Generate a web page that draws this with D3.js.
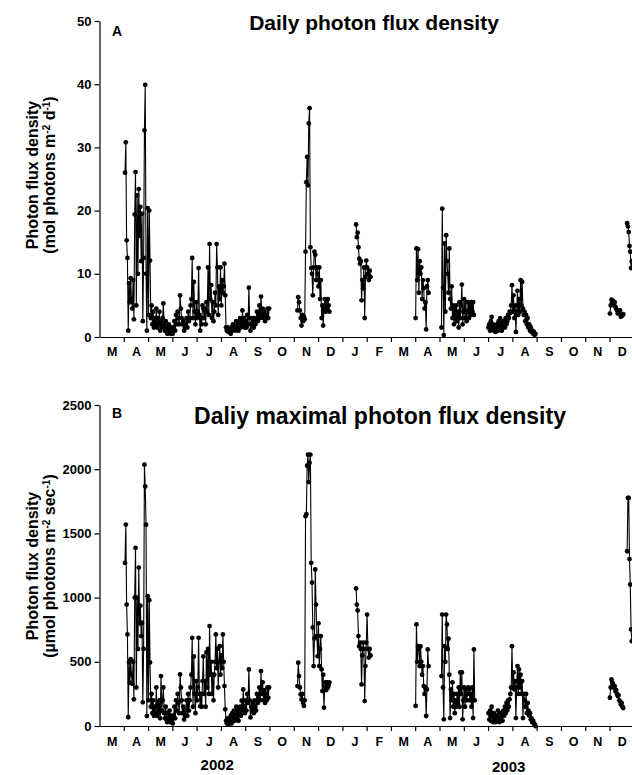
<!DOCTYPE html>
<html><head><meta charset="utf-8">
<script src="https://cdn.jsdelivr.net/npm/d3@7"></script>
<style>
body{margin:0;background:#fff}
svg{display:block}
text{font-family:"Liberation Sans",Arial,Helvetica,sans-serif;font-weight:bold;fill:#000}
</style>
</head><body>
<svg id="chart" width="632" height="775"></svg>
<script>
// ---------- data ----------
const monthLabels = ["M","A","M","J","J","A","S","O","N","D","J","F","M","A","M","J","J","A","S","O","N","D"];
const yearLabels = ["2002","2003"];
const ticksA = [0,10,20,30,40,50];
const ticksB = [0,500,1000,1500,2000,2500];
const titleA = "Daily photon flux density";
const titleB = "Daliy maximal photon flux density";

// start date of each run of consecutive daily measurements
const runStarts = ["2002-04-02","2002-11-05","2003-01-18","2003-04-01","2003-05-03","2003-07-01","2003-12-01","2003-12-23"];

// Panel A: daily photon flux density (mol photons m-2 d-1)
const dailyA1 = [26,30.8,15.3,12.5,1.0,8.5,5.5,9.3,6,4.5,9,2.8,19.4,26.1,5,22.4,10,23.4,16,20.6,12,19.5,2.5,12.5,32.7,39.9,10,1,20.4,
  3.5,20,12.1,3,5,2,4,1.5,3,2,4.5,1.5,3,2,4,1,2.5,1.5,3,5.3,2,1,2.5,1,0.5,1.5,2,1,0.5,1.5,1,
  0.5,1.5,2.5,1,3.5,2,4,3,2,6.6,4.5,3,2,2.5,1,1.5,2,3,1.5,4,2.5,3,5,6,12.5,3,8.7,4,2,5.5,
  3,4,10.9,3.5,1,3,2,5,4.5,3,4.5,2,5.5,4,11,3.5,14.7,6,8.2,3,5.5,2.5,4,7,5,14.7,11,3.5,8,6,11,
  5,9,7,8,11.6,6.6,1.5,1,1.5,0.8,1.2,1,0.5,1.5,1,2,1.2,1.5,1,2.5,1.5,2,1,2.5,3,1.5,2.5,4.2,2,3,1.5,
  2.5,1.5,3.5,2,7.8,3,1,2,3,2.5,1.5,3,2,2.5,4,2.5,3.5,5,3,6.4,3.5,4.5,3,4,2.5,3.5,3,4.5,3,4.5];
const dailyA2 = [4.2,6.3,5.5,4.2,3,1.8,3.5,2.5,3.2,2.8,13.5,24.5,28.5,24,33.8,36.2,14.2,10.9,10,6.6,11,13.5,13,9,11,10,
  8,11,6,9,3,5,1.8,4.5,6,4,5.5,4.5,6,5,4];
const dailyA3 = [17.8,15.8,16.5,14.2,12.4,11.6,12,5.8,9,7.7,11,3,9.5,12.1,11,10,9,10.5,9.5];
const dailyA4 = [3,14,9,13.9,7,12,10,11,6,9,7.7,4.5,5.5,1.2,8,9,7];
const dailyA5 = [1.5,20.3,7.8,0.3,14.8,4,16.1,12,10,7,14,6,4.5,8,3,5,2,4.5,3,5,2.5,4,1.5,5.5,3,5,8.3,2,4,
  6,3,5.5,2.5,4,5.5,3,5,3.5,5.5,4,5.5,3.5];
const dailyA6 = [1.5,2,1,2.5,3.2,1.5,2,1,1.5,0.8,1.2,2,1,2.5,1.5,3,2,1,1.5,2.5,2,1.5,3,2,2.5,3.5,3,4,3.8,5,8.2,
  4,6.6,3,5,0.8,4,7.3,3.5,6,4,9,5,8.7,4.5,3.5,4,2.5,3.5,2,3,1.5,2,1,1.5,0.8,1,0.5,0.8,0.3,0.5];
const dailyA7 = [3.7,5,5.9,5.5,5.7,5.3,5.5,4.8,4.5,4.2,3.7,4,3.8,4.2,3.2,3.5,3.4,3.6];
const dailyA8 = [18,17.5,16.6,14.4,13.5,10.9,12];

// Panel B: daily maximal photon flux density (umol photons m-2 s-1)
const maxB1 = [1270,1569,946,713,68,495,338,520,400,330,500,208,1000,1387,300,1000,600,1234,800,937,700,804,184,600,2035,1866,1568,78,1011,
  200,980,495,150,250,100,200,80,150,100,300,80,180,100,200,60,389,120,200,300,100,60,150,50,30,100,60,120,30,80,50,
  20,80,150,60,200,120,250,180,100,402,300,200,100,150,50,80,120,200,80,250,120,200,300,400,687,150,542,250,100,350,
  200,300,687,250,153,250,150,350,542,250,350,150,573,300,600,250,778,400,500,250,400,200,400,500,713,450,600,300,500,622,400,
  550,450,713,500,311,130,40,20,60,10,50,30,80,20,100,50,120,40,80,150,60,130,40,100,150,80,197,120,285,150,100,
  200,120,250,180,441,200,67,150,120,180,100,200,150,120,250,180,220,300,200,428,250,340,200,280,180,250,200,300,220,300];
const maxB2 = [311,493,389,300,246,206,250,180,156,200,1633,1650,2027,2113,1900,2050,2113,1271,1117,767,467,682,1219,946,700,544,
  800,467,600,700,441,272,400,143,300,340,280,340,300,320,340];
const maxB3 = [1071,946,900,700,622,650,600,324,550,650,600,194,467,650,868,600,533,600,550];
const maxB4 = [156,791,500,622,600,467,620,500,400,467,311,250,300,78,285,596,467];
const maxB5 = [389,868,300,52,622,500,868,791,600,680,400,62,285,200,340,150,250,100,200,150,250,180,300,150,417,250,417,52,200,
  300,150,285,200,250,300,285,200,250,150,300,62,596,200];
const maxB6 = [100,50,120,40,150,80,30,100,60,30,80,40,120,60,30,100,50,80,40,120,80,150,100,180,120,200,150,208,250,300,622,
  300,417,285,350,62,300,467,250,441,300,400,250,350,62,250,200,150,250,100,180,120,80,100,50,60,30,40,20,10,0];
const maxB7 = [220,300,363,340,324,300,310,272,280,250,233,240,200,190,168,180,150,140];
const maxB8 = [1361,1776,1776,1300,1102,752,661];

const runsA = [dailyA1,dailyA2,dailyA3,dailyA4,dailyA5,dailyA6,dailyA7,dailyA8];
const runsB = [maxB1,maxB2,maxB3,maxB4,maxB5,maxB6,maxB7,maxB8];

// ---------- helpers ----------
const parse = d3.timeParse("%Y-%m-%d");
function monthPos(dt){
  const y = dt.getFullYear(), m = dt.getMonth();
  const dim = new Date(y, m+1, 0).getDate();
  return (y-2002)*12 + m - 2 + (dt.getDate()-0.5)/dim;
}
function toPoints(start, vals){
  const s = parse(start);
  return vals.map((v,i)=>[monthPos(d3.timeDay.offset(s,i)), v]);
}

const svg = d3.select("#chart");
const x = d3.scaleLinear().domain([0,22]).range([99.5,633.8]);

function drawPanel(cfg){
  const y = d3.scaleLinear().domain(cfg.domain).range(cfg.range);
  const g = svg.append("g");

  // y axis
  const ya = g.append("g").attr("transform","translate(99.5,0)")
    .call(d3.axisLeft(y).tickValues(cfg.ticks).tickSize(5).tickSizeOuter(0).tickPadding(3).tickFormat(d3.format("d")));
  ya.selectAll("text").style("font-size","13px");
  ya.selectAll("path,line").attr("stroke","#000").attr("stroke-width",1.2);

  // x axis ticks
  const xa = g.append("g").attr("transform",`translate(0,${y(0)})`)
    .call(d3.axisBottom(x).tickValues(d3.range(1,22)).tickSize(5).tickSizeOuter(0).tickFormat(""));
  xa.selectAll("path,line").attr("stroke","#000").attr("stroke-width",1.2);

  // month labels
  const xl = g.append("g").attr("transform",`translate(0,${y(0)})`)
    .call(d3.axisBottom(x).tickValues(d3.range(22).map(i=>i+0.5)).tickSize(0).tickPadding(cfg.monthPad)
      .tickFormat(d=>monthLabels[Math.floor(d)]));
  xl.select(".domain").remove();
  xl.selectAll("text").style("font-size","12.5px");

  // data
  const line = d3.line().x(d=>x(d[0])).y(d=>y(d[1]));
  cfg.runs.forEach((vals,i)=>{
    const pts = toPoints(runStarts[i], vals);
    g.append("path").datum(pts).attr("d",line)
      .attr("fill","none").attr("stroke","#000").attr("stroke-width",1.1);
    g.append("g").selectAll("circle").data(pts).join("circle")
      .attr("cx",d=>x(d[0])).attr("cy",d=>y(d[1])).attr("r",2.4).attr("fill","#000");
  });

  // titles
  g.append("text").attr("x",cfg.titleX).attr("y",cfg.titleY).attr("text-anchor","middle")
    .style("font-size",cfg.titleSize).text(cfg.title);
  g.append("text").attr("x",112).attr("y",cfg.letterY).style("font-size","14px").text(cfg.letter);

  // y-axis title (two lines)
  const cy = cfg.labelY;
  g.append("text").attr("transform",`translate(38,${cy}) rotate(-90)`).attr("text-anchor","middle")
    .style("font-size","16px").text("Photon flux density");
  const t2 = g.append("text").attr("transform",`translate(55,${cy}) rotate(-90)`).attr("text-anchor","middle")
    .style("font-size","16px");
  cfg.unit.forEach(p=>{
    const ts = t2.append("tspan").text(p.t);
    if(p.sup){ ts.attr("baseline-shift","super").style("font-size","10px"); }
  });
  return y;
}

drawPanel({domain:[0,50], range:[337,21], ticks:ticksA, runs:runsA, monthPad:10,
  title:titleA, titleSize:"21px", titleX:374, titleY:30, letter:"A", letterY:36, labelY:175,
  unit:[{t:"(mol photons m"},{t:"-2",sup:true},{t:" d"},{t:"-1",sup:true},{t:")"}]});

drawPanel({domain:[0,2500], range:[726,405], ticks:ticksB, runs:runsB, monthPad:11,
  title:titleB, titleSize:"23px", titleX:380, titleY:424, letter:"B", letterY:418, labelY:566,
  unit:[{t:"(\u00b5mol photons m"},{t:"-2",sup:true},{t:" sec"},{t:"-1",sup:true},{t:")"}]});

// year labels
svg.append("text").attr("x",x(4.85)).attr("y",770).attr("text-anchor","middle").style("font-size","15px").text(yearLabels[0]);
svg.append("text").attr("x",x(16.85)).attr("y",772).attr("text-anchor","middle").style("font-size","15px").text(yearLabels[1]);
</script>
</body></html>
